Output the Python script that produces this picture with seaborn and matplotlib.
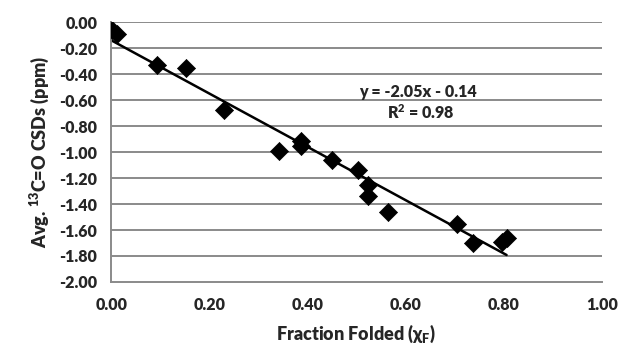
import numpy as np
import matplotlib.pyplot as plt
import seaborn as sns

# fraction folded vs avg 13C=O chemical shift difference
fraction_folded = [0.002, 0.012, 0.094, 0.153, 0.230, 0.342, 0.387, 0.387,
                   0.450, 0.503, 0.524, 0.524, 0.565, 0.705, 0.738, 0.796, 0.806]
csd = [-0.06, -0.09, -0.33, -0.355, -0.68, -0.99, -0.915, -0.95,
       -1.06, -1.14, -1.25, -1.34, -1.46, -1.55, -1.70, -1.69, -1.66]
slope = -2.05
intercept = -0.14
xticks = [0.0, 0.2, 0.4, 0.6, 0.8, 1.0]
yticks = [0.0, -0.2, -0.4, -0.6, -0.8, -1.0, -1.2, -1.4, -1.6, -1.8, -2.0]

sns.set_style("white")
plt.rcParams['font.family'] = ['Lato', 'DejaVu Sans']
plt.rcParams['font.weight'] = 'heavy'
plt.rcParams['mathtext.fontset'] = 'custom'
plt.rcParams['mathtext.bf'] = 'Lato:heavy'
plt.rcParams['mathtext.rm'] = 'Lato:heavy'
plt.rcParams['mathtext.default'] = 'bf'

fig = plt.figure(figsize=(6.21, 3.58), dpi=100)
ax = fig.add_axes([0.179, 0.2123, 0.79, 0.7262])

grey = '#8a8a8a'
for yv in yticks[:-1]:
    ax.axhline(yv, color=grey, lw=1.4, zorder=0)

fit_x = np.array([min(fraction_folded), max(fraction_folded)])
sns.lineplot(x=fit_x, y=slope * fit_x + intercept, color='black', lw=1.8, ax=ax)
sns.scatterplot(x=fraction_folded, y=csd, marker='D', s=85, color='black',
                edgecolor='black', linewidth=0.5, ax=ax, zorder=3)

ax.set_xlim(0, 1.0)
ax.set_ylim(-2.0, 0.0)
ax.set_xticks(xticks)
ax.set_yticks(yticks)
ax.set_xticklabels([f"{v:.2f}" for v in xticks], fontsize=11.5, fontweight='heavy')
ax.set_yticklabels([f"{v:.2f}" for v in yticks], fontsize=11.5, fontweight='heavy')
ax.tick_params(axis='x', direction='out', length=6, width=1.4, color=grey, pad=5)
ax.tick_params(axis='y', direction='out', length=6, width=1.4, color=grey, pad=4)

for side in ['top', 'right']:
    ax.spines[side].set_visible(False)
for side in ['left', 'bottom']:
    ax.spines[side].set_color(grey)
    ax.spines[side].set_linewidth(1.4)
ax.set_clip_on(False)

ax.text(0.625, -0.54, f"y = {slope:.2f}x - {abs(intercept):.2f}", ha='center', va='center',
        fontsize=11.5, fontweight='heavy')
ax.text(0.632, -0.70, "R$^{2}$ = 0.98", ha='center', va='center',
        fontsize=11.5, fontweight='heavy')

ax.set_xlabel(r"Fraction Folded ($\chi_F$)", fontsize=13, fontweight='heavy', labelpad=7)
ax.set_ylabel(r"Avg. $^{13}$C=O CSDs (ppm)", fontsize=13, fontweight='heavy', labelpad=6)

fig.savefig("out.png", dpi=100)
